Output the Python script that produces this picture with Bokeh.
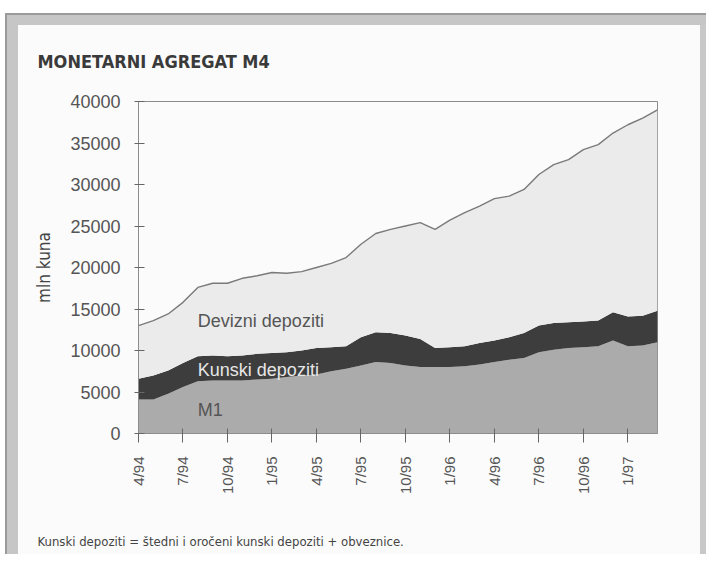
from bokeh.plotting import figure
from bokeh.models import ColumnDataSource, FixedTicker, Label, BasicTickFormatter, Title
from bokeh.embed import file_html
from bokeh.resources import INLINE
import math

# ---- data (mln kuna), monthly 4/94 .. 3/97 ----
months = ["4/94", "5/94", "6/94", "7/94", "8/94", "9/94", "10/94", "11/94", "12/94",
          "1/95", "2/95", "3/95", "4/95", "5/95", "6/95", "7/95", "8/95", "9/95",
          "10/95", "11/95", "12/95", "1/96", "2/96", "3/96", "4/96", "5/96", "6/96",
          "7/96", "8/96", "9/96", "10/96", "11/96", "12/96", "1/97", "2/97", "3/97"]
m1 = [4100, 4100, 4800, 5600, 6300, 6400, 6400, 6400, 6500,
      6600, 6800, 7000, 7100, 7500, 7800, 8200, 8600, 8500,
      8200, 8000, 8000, 8000, 8100, 8300, 8600, 8900, 9100,
      9800, 10100, 10300, 10400, 10500, 11200, 10500, 10600, 11000]
kunski = [2500, 2900, 2800, 2900, 3000, 3000, 2900, 3000, 3100,
          3100, 3000, 3000, 3200, 2900, 2700, 3400, 3600, 3600,
          3600, 3400, 2300, 2400, 2400, 2600, 2600, 2700, 3000,
          3200, 3200, 3100, 3100, 3100, 3400, 3600, 3600, 3800]
devizni = [6400, 6600, 6800, 7300, 8300, 8700, 8800, 9300, 9400,
           9700, 9500, 9500, 9700, 10100, 10700, 11200, 11900, 12500,
           13200, 14000, 14300, 15300, 16100, 16500, 17100, 17000, 17300,
           18200, 19100, 19600, 20700, 21200, 21600, 23100, 23800, 24200]
tick_labels = ["4/94", "7/94", "10/94", "1/95", "4/95", "7/95", "10/95",
               "1/96", "4/96", "7/96", "10/96", "1/97"]
y_ticks = [0, 5000, 10000, 15000, 20000, 25000, 30000, 35000, 40000]
series_names = ["M1", "Kunski depoziti", "Devizni depoziti"]
title_text = "MONETARNI AGREGAT M4"
note_text = "Kunski depoziti = štedni i oročeni kunski depoziti + obveznice."

idx = list(range(len(months)))
total = [a + b + c for a, b, c in zip(m1, kunski, devizni)]
source = ColumnDataSource(dict(idx=idx, m1=m1, kunski=kunski, devizni=devizni, total=total))

cond = "Liberation Sans Narrow, DejaVu Sans Condensed, sans-serif"

W, H = 706, 554
p = figure(width=W, height=H, output_backend="svg", toolbar_location=None,
           x_range=(0, len(months) - 1), y_range=(0, 40000),
           min_border_left=138, min_border_right=49, min_border_top=101, min_border_bottom=121)
# grey picture frame drawn behind a transparent canvas border
p.styles = {"background-color": "#fbfbfb",
            "box-shadow": ("inset 5px 0 0 0 #ffffff, inset 0 13px 0 0 #ffffff, "
                           "inset 7px 15px 0 0 #9a9a9a, inset 18px 25px 0 0 #c6c6c6, "
                           "inset -6px 0 0 0 #c8c8c8")}
p.background_fill_color = "#fbfbfb"
p.border_fill_color = None
p.outline_line_color = "#8c8c8c"
p.grid.visible = False

p.varea_stack(stackers=["m1", "kunski", "devizni"], x="idx",
              color=["#ababab", "#3d3d3d", "#ebebeb"], source=source)
p.line(x="idx", y="total", source=source, line_color="#7a7a7a", line_width=1.4)

# title (above) and footnote (below, after a small spacer panel)
p.title = Title(text=title_text, align="left", offset=-101, standoff=58,
                vertical_align="middle",
                text_font=cond, text_font_style="bold", text_font_size="18px",
                text_color="#3a3a3a")
p.add_layout(Title(text=" ", standoff=28, text_font_size="1px"), "below")
p.add_layout(Title(text=note_text, align="left", offset=-101, standoff=8,
                   vertical_align="middle",
                   text_font=cond, text_font_style="normal", text_font_size="13px",
                   text_color="#444444"), "below")

# axes
p.xaxis.ticker = FixedTicker(ticks=[months.index(t) for t in tick_labels])
p.xaxis.major_label_overrides = {months.index(t): t for t in tick_labels}
p.xaxis.major_label_orientation = math.pi / 2
p.xaxis.major_label_text_font = "Liberation Sans"
p.xaxis.major_label_text_font_size = "15px"
p.xaxis.major_label_text_color = "#555555"
p.xaxis.major_label_standoff = 14
p.xaxis.major_tick_in = 5
p.xaxis.major_tick_out = 9
p.xaxis.minor_tick_line_color = None

p.yaxis.ticker = FixedTicker(ticks=y_ticks)
p.yaxis.formatter = BasicTickFormatter(use_scientific=False)
p.yaxis.major_label_text_font = "Liberation Sans"
p.yaxis.major_label_text_font_size = "18px"
p.yaxis.major_label_text_color = "#555555"
p.yaxis.major_label_standoff = 14
p.yaxis.major_tick_in = 6
p.yaxis.major_tick_out = 4
p.yaxis.minor_tick_line_color = None
p.yaxis.axis_label = "mln kuna"
p.yaxis.axis_label_text_font = cond
p.yaxis.axis_label_text_font_style = "normal"
p.yaxis.axis_label_text_font_size = "17px"
p.yaxis.axis_label_text_color = "#444444"
p.yaxis.axis_label_standoff = 13

for ax in (p.xaxis, p.yaxis):
    ax.axis_line_color = "#8c8c8c"
    ax.major_tick_line_color = "#666666"

# area labels (data units)
lab_font = "Liberation Sans"
p.add_layout(Label(x=4.0, y=13600, text=series_names[2], text_font=lab_font,
                   text_font_size="18px", text_color="#555555", text_baseline="middle"))
p.add_layout(Label(x=4.0, y=7600, text=series_names[1], text_font=lab_font,
                   text_font_size="18px", text_color="#e6e6e6", text_baseline="middle"))
p.add_layout(Label(x=4.0, y=2800, text=series_names[0], text_font=lab_font,
                   text_font_size="18px", text_color="#555555", text_baseline="middle"))

open("out.html", "w").write(file_html(p, INLINE))
